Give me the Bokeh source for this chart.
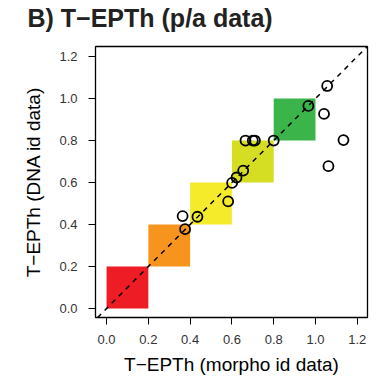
from bokeh.plotting import figure
from bokeh.models import Range1d, FixedTicker, Slope, Title
from bokeh.embed import file_html
from bokeh.resources import INLINE

# Data
morpho = [1.056, 0.966, 1.041, 1.134, 1.062, 0.80, 0.71, 0.70, 0.665, 0.654, 0.622, 0.601, 0.582, 0.435, 0.364, 0.376]
dna    = [1.060, 0.965, 0.927, 0.802, 0.678, 0.80, 0.80, 0.80, 0.80, 0.657, 0.624, 0.598, 0.510, 0.437, 0.440, 0.378]
class_lo = [0.0, 0.2, 0.4, 0.6, 0.8]
class_hi = [0.2, 0.4, 0.6, 0.8, 1.0]
class_colors = ["#EE1C25", "#F7941E", "#F5EB2B", "#D6DE23", "#3BB54A"]
ticks = [0.0, 0.2, 0.4, 0.6, 0.8, 1.0, 1.2]
tick_labels = {0.0: "0.0", 0.2: "0.2", 0.4: "0.4", 0.6: "0.6", 0.8: "0.8", 1.0: "1.0", 1.2: "1.2"}
title_text = "B) T\u2212EPTh (p/a data)"

FONT = "Liberation Sans"

p = figure(width=375, height=379, output_backend="svg", toolbar_location=None,
           x_range=Range1d(-0.053, 1.249), y_range=Range1d(-0.043, 1.248),
           min_border_left=95, min_border_right=8, min_border_top=46, min_border_bottom=62)
p.title = Title(text=title_text, text_font=FONT, text_font_size="25px",
                text_font_style="bold", text_color="#222222", align="left",
                offset=-68, standoff=0)
# thin spacer between the title and the frame
p.add_layout(Title(text=" ", text_font_size="1px", standoff=12), "above")
p.grid.visible = False
p.outline_line_color = "black"
p.outline_line_width = 1.3
p.outline_line_alpha = 1.0

p.quad(left=class_lo, right=class_hi, bottom=class_lo, top=class_hi,
       fill_color=class_colors, line_color=None)
p.add_layout(Slope(gradient=1, y_intercept=0, line_color="black",
                   line_dash="5 5", line_width=1.5))
p.scatter(morpho, dna, marker="circle", size=10, fill_color=None,
          line_color="black", line_width=1.8)

for ax in (p.xaxis[0], p.yaxis[0]):
    ax.ticker = FixedTicker(ticks=ticks)
    ax.major_label_overrides = tick_labels
    ax.bounds = (0, 1.2)
    ax.minor_tick_line_color = None
    ax.major_tick_out = 7
    ax.major_tick_in = 0
    ax.major_tick_line_color = "black"
    ax.major_tick_line_width = 1
    ax.axis_line_color = "black"
    ax.major_label_text_font = FONT
    ax.major_label_text_font_size = "13px"
    ax.major_label_text_color = "#333333"
    ax.axis_label_text_font = FONT
    ax.axis_label_text_font_size = "19px"
    ax.axis_label_text_font_style = "normal"
    ax.axis_label_text_color = "black"

p.xaxis.axis_label = "T\u2212EPTh (morpho id data)"
p.yaxis.axis_label = "T\u2212EPTh (DNA id data)"
p.xaxis.major_label_standoff = 10
p.yaxis.major_label_standoff = 11
p.xaxis.axis_label_standoff = 7
p.yaxis.axis_label_standoff = 12

open("out.html", "w").write(file_html(p, INLINE))
